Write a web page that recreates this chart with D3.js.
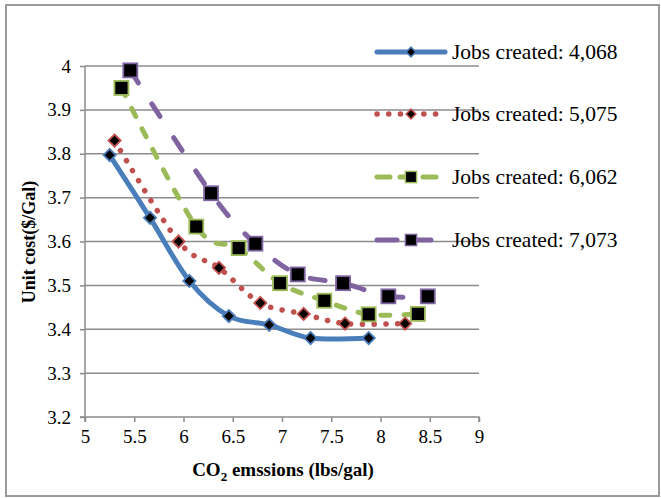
<!DOCTYPE html>
<html>
<head>
<meta charset="utf-8">
<script src="https://cdn.jsdelivr.net/npm/d3@7"></script>
<style>
  html, body { margin: 0; padding: 0; background: #fff; }
  svg { display: block; }
  svg text { font-family: "Liberation Serif", "DejaVu Serif", serif; }
</style>
</head>
<body>
<div id="chart"></div>
<script>
// Emissions vs. unit cost for four job-creation levels
const seriesNames = ["Jobs created: 4,068", "Jobs created: 5,075", "Jobs created: 6,062", "Jobs created: 7,073"];
const jobs4068X = [5.25, 5.66, 6.06, 6.46, 6.87, 7.29, 7.88];
const jobs4068Y = [3.797, 3.654, 3.51, 3.43, 3.41, 3.38, 3.38];
const jobs5075X = [5.30, 5.95, 6.36, 6.78, 7.22, 7.64, 8.25];
const jobs5075Y = [3.83, 3.60, 3.54, 3.46, 3.435, 3.413, 3.413];
const jobs6062X = [5.37, 6.13, 6.56, 6.98, 7.43, 7.88, 8.38];
const jobs6062Y = [3.95, 3.634, 3.585, 3.505, 3.465, 3.434, 3.435];
const jobs7073X = [5.46, 6.28, 6.73, 7.16, 7.62, 8.08, 8.48];
const jobs7073Y = [3.99, 3.71, 3.595, 3.525, 3.505, 3.475, 3.475];
const xTicks = [5, 5.5, 6, 6.5, 7, 7.5, 8, 8.5, 9];
const yTicks = [3.2, 3.3, 3.4, 3.5, 3.6, 3.7, 3.8, 3.9, 4];

const W = 661, H = 498;
const plot = { left: 85, right: 479, top: 66, bottom: 417 };
const FONT = "'Liberation Serif', 'DejaVu Serif', serif";

const x = d3.scaleLinear().domain([5, 9]).range([plot.left, plot.right]);
const y = d3.scaleLinear().domain([3.2, 4]).range([plot.bottom, plot.top]);

const styles = [
  { color: "#4A7EBB", dash: null, width: 5, marker: "diamond" },
  { color: "#C0504D", dash: "0.1 11.6", width: 5.5, marker: "diamond" },
  { color: "#9BBB59", dash: "9 14", width: 5, marker: "square" },
  { color: "#8064A2", dash: "15 25", width: 5, marker: "square" }
];

const series = [
  jobs4068X.map((v, i) => ({ x: v, y: jobs4068Y[i] })),
  jobs5075X.map((v, i) => ({ x: v, y: jobs5075Y[i] })),
  jobs6062X.map((v, i) => ({ x: v, y: jobs6062Y[i] })),
  jobs7073X.map((v, i) => ({ x: v, y: jobs7073Y[i] }))
];

const svg = d3.select("#chart").append("svg").attr("width", W).attr("height", H);

// outer frame
svg.append("rect").attr("x", 6).attr("y", 5).attr("width", 653).attr("height", 491)
  .attr("fill", "#fff").attr("stroke", "#9a9a9a").attr("stroke-width", 2);

// horizontal gridlines
svg.append("g").selectAll("line").data(yTicks.filter(t => t > 3.2)).join("line")
  .attr("x1", plot.left).attr("x2", plot.right)
  .attr("y1", d => y(d)).attr("y2", d => y(d))
  .attr("stroke", "#8c8c8c").attr("stroke-width", 1.5);

// axes
const xAxis = d3.axisBottom(x).tickValues(xTicks).tickSize(5).tickPadding(8).tickFormat(d3.format("~g"));
const yAxis = d3.axisLeft(y).tickValues(yTicks).tickSize(5).tickPadding(9).tickFormat(d3.format("~g"));

const gx = svg.append("g").attr("transform", `translate(0,${plot.bottom})`).call(xAxis);
const gy = svg.append("g").attr("transform", `translate(${plot.left},0)`).call(yAxis);
[gx, gy].forEach(g => {
  g.attr("font-family", FONT).attr("font-size", 19);
  g.select(".domain").attr("stroke", "#8c8c8c").attr("stroke-width", 1.5);
  g.selectAll(".tick line").attr("stroke", "#8c8c8c").attr("stroke-width", 1.5);
  g.selectAll(".tick text").attr("fill", "#000");
});
gy.select(".domain").attr("d", `M-5,${plot.bottom}H0V${plot.top}`);
gx.select(".domain").attr("d", `M${plot.left},5V0H${plot.right}V5`);

// axis titles
const xt = svg.append("text").attr("x", 283).attr("y", 476)
  .attr("text-anchor", "middle").attr("font-family", FONT)
  .attr("font-size", 19).attr("font-weight", "bold");
xt.append("tspan").text("CO");
xt.append("tspan").text("2").attr("dy", 5).attr("font-size", 13);
xt.append("tspan").text(" emssions (lbs/gal)").attr("dy", -5);

svg.append("text").attr("transform", `translate(35,242) rotate(-90)`)
  .attr("text-anchor", "middle").attr("font-family", FONT)
  .attr("font-size", 18).attr("font-weight", "bold")
  .text("Unit cost($/Gal)");

const line = d3.line().x(d => x(d.x)).y(d => y(d.y)).curve(d3.curveCatmullRom.alpha(0));

function drawMarker(g, kind, color) {
  if (kind === "diamond") {
    g.append("path").attr("d", d3.symbol(d3.symbolDiamond2, 95)())
      .attr("fill", "#000").attr("stroke", color).attr("stroke-width", 1.8);
  } else {
    g.append("rect").attr("x", -7).attr("y", -7).attr("width", 14).attr("height", 14)
      .attr("fill", "#000").attr("stroke", color).attr("stroke-width", 1.8);
  }
}

series.forEach((pts, i) => {
  const s = styles[i];
  const g = svg.append("g");
  g.append("path").datum(pts).attr("d", line)
    .attr("fill", "none").attr("stroke", s.color).attr("stroke-width", s.width)
    .attr("stroke-linecap", "round").attr("stroke-dasharray", s.dash);
  g.selectAll("g.pt").data(pts).join("g").attr("class", "pt")
    .attr("transform", d => `translate(${x(d.x)},${y(d.y)})`)
    .each(function () { drawMarker(d3.select(this), s.marker, s.color); });
});

// legend
const legendY = [52, 114, 177, 240];
const legendDash = [null, "0.1 11.6", "13 10", "20 14"];
const leg = svg.append("g");
seriesNames.forEach((name, i) => {
  const s = styles[i];
  const row = leg.append("g").attr("transform", `translate(0,${legendY[i]})`);
  row.append("line").attr("x1", 377).attr("x2", 445).attr("y1", 0).attr("y2", 0)
    .attr("stroke", s.color).attr("stroke-width", s.width)
    .attr("stroke-linecap", "round").attr("stroke-dasharray", legendDash[i]);
  const m = row.append("g").attr("transform", "translate(411,0) scale(0.8)");
  drawMarker(m, s.marker, s.color);
  row.append("text").attr("x", 452).attr("y", 7).attr("font-family", FONT)
    .attr("font-size", 21.5).text(name);
});
</script>
</body>
</html>
